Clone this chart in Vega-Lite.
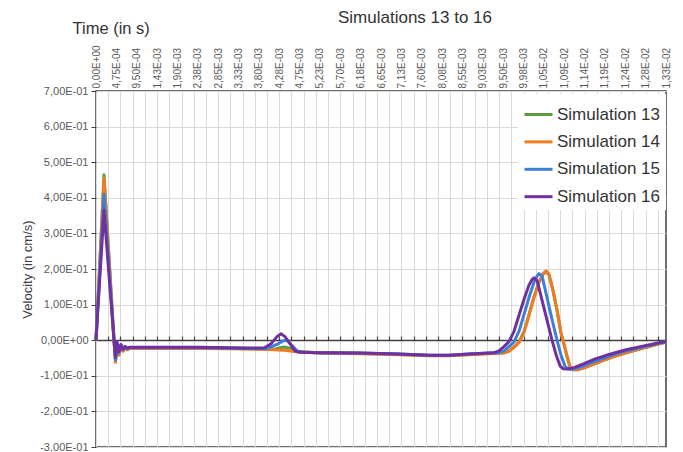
{
"$schema": "https://vega.github.io/schema/vega-lite/v6.json",
"width": 570, "height": 356,
"autosize": {"type": "none"},
"padding": {"left": 96, "top": 91, "right": 17, "bottom": 5},
"background": "white",
"title": {"text": "Simulations 13 to 16", "fontSize": 17, "font": "Liberation Sans", "fontWeight": "normal", "color": "#333333", "anchor": "middle", "dx": 34, "dy": 11},
"config": {"view": {"stroke": "#404040", "strokeWidth": 1.5}, "font": "Liberation Sans"},
"datasets": {
"sim": [
{"s":"Simulation 13","t":0,"v":0},{"s":"Simulation 13","t":0.0001867,"v":0.465},{"s":"Simulation 13","t":0.0003033,"v":0.235},{"s":"Simulation 13","t":0.00042,"v":0},{"s":"Simulation 13","t":0.000455,"v":-0.06},{"s":"Simulation 13","t":0.00049,"v":-0.01},{"s":"Simulation 13","t":0.0005367,"v":-0.04},{"s":"Simulation 13","t":0.0005833,"v":-0.014},{"s":"Simulation 13","t":0.00063,"v":-0.03},{"s":"Simulation 13","t":0.0006767,"v":-0.019},{"s":"Simulation 13","t":0.0007233,"v":-0.026},{"s":"Simulation 13","t":0.0007933,"v":-0.022},{"s":"Simulation 13","t":0.0010033,"v":-0.022},{"s":"Simulation 13","t":0.0024033,"v":-0.022},{"s":"Simulation 13","t":0.00357,"v":-0.024},{"s":"Simulation 13","t":0.0041533,"v":-0.025},{"s":"Simulation 13","t":0.0043867,"v":-0.019},{"s":"Simulation 13","t":0.00455,"v":-0.023},{"s":"Simulation 13","t":0.0047367,"v":-0.032},{"s":"Simulation 13","t":0.0052033,"v":-0.035},{"s":"Simulation 13","t":0.0061367,"v":-0.037},{"s":"Simulation 13","t":0.00707,"v":-0.04},{"s":"Simulation 13","t":0.00777,"v":-0.043},{"s":"Simulation 13","t":0.0082367,"v":-0.043},{"s":"Simulation 13","t":0.0087033,"v":-0.04},{"s":"Simulation 13","t":0.00917,"v":-0.037},{"s":"Simulation 13","t":0.00952,"v":-0.035},{"s":"Simulation 13","t":0.0096367,"v":-0.03},{"s":"Simulation 13","t":0.0097533,"v":-0.019},{"s":"Simulation 13","t":0.00987,"v":-0.005},{"s":"Simulation 13","t":0.0099867,"v":0.024},{"s":"Simulation 13","t":0.0101033,"v":0.072},{"s":"Simulation 13","t":0.01022,"v":0.122},{"s":"Simulation 13","t":0.0103367,"v":0.163},{"s":"Simulation 13","t":0.01043,"v":0.185},{"s":"Simulation 13","t":0.0105,"v":0.193},{"s":"Simulation 13","t":0.01057,"v":0.183},{"s":"Simulation 13","t":0.0106633,"v":0.14},{"s":"Simulation 13","t":0.0107567,"v":0.085},{"s":"Simulation 13","t":0.01085,"v":0.02},{"s":"Simulation 13","t":0.0108967,"v":0},{"s":"Simulation 13","t":0.01099,"v":-0.045},{"s":"Simulation 13","t":0.01106,"v":-0.075},{"s":"Simulation 13","t":0.01113,"v":-0.083},{"s":"Simulation 13","t":0.0112233,"v":-0.083},{"s":"Simulation 13","t":0.0113867,"v":-0.078},{"s":"Simulation 13","t":0.01162,"v":-0.067},{"s":"Simulation 13","t":0.0118533,"v":-0.056},{"s":"Simulation 13","t":0.0121567,"v":-0.043},{"s":"Simulation 13","t":0.01253,"v":-0.03},{"s":"Simulation 13","t":0.0129033,"v":-0.018},{"s":"Simulation 13","t":0.0131833,"v":-0.009},{"s":"Simulation 13","t":0.0133,"v":-0.006},

{"s":"Simulation 14","t":0,"v":0},{"s":"Simulation 14","t":0.0001867,"v":0.455},{"s":"Simulation 14","t":0.0003033,"v":0.23},{"s":"Simulation 14","t":0.00042,"v":0},{"s":"Simulation 14","t":0.000455,"v":-0.062},{"s":"Simulation 14","t":0.00049,"v":-0.012},{"s":"Simulation 14","t":0.0005367,"v":-0.042},{"s":"Simulation 14","t":0.0005833,"v":-0.016},{"s":"Simulation 14","t":0.00063,"v":-0.031},{"s":"Simulation 14","t":0.0006767,"v":-0.02},{"s":"Simulation 14","t":0.0007233,"v":-0.027},{"s":"Simulation 14","t":0.0007933,"v":-0.023},{"s":"Simulation 14","t":0.0010033,"v":-0.023},{"s":"Simulation 14","t":0.0024033,"v":-0.023},{"s":"Simulation 14","t":0.00357,"v":-0.025},{"s":"Simulation 14","t":0.0040367,"v":-0.026},{"s":"Simulation 14","t":0.0043867,"v":-0.028},{"s":"Simulation 14","t":0.0047367,"v":-0.033},{"s":"Simulation 14","t":0.0052033,"v":-0.036},{"s":"Simulation 14","t":0.0061367,"v":-0.038},{"s":"Simulation 14","t":0.00707,"v":-0.041},{"s":"Simulation 14","t":0.00777,"v":-0.044},{"s":"Simulation 14","t":0.0082367,"v":-0.044},{"s":"Simulation 14","t":0.0087033,"v":-0.041},{"s":"Simulation 14","t":0.00917,"v":-0.038},{"s":"Simulation 14","t":0.00952,"v":-0.036},{"s":"Simulation 14","t":0.0096367,"v":-0.031},{"s":"Simulation 14","t":0.0097533,"v":-0.02},{"s":"Simulation 14","t":0.00987,"v":-0.006},{"s":"Simulation 14","t":0.0099867,"v":0.022},{"s":"Simulation 14","t":0.0101033,"v":0.07},{"s":"Simulation 14","t":0.01022,"v":0.12},{"s":"Simulation 14","t":0.0103367,"v":0.163},{"s":"Simulation 14","t":0.01043,"v":0.187},{"s":"Simulation 14","t":0.0105,"v":0.195},{"s":"Simulation 14","t":0.01057,"v":0.185},{"s":"Simulation 14","t":0.0106633,"v":0.14},{"s":"Simulation 14","t":0.0107567,"v":0.085},{"s":"Simulation 14","t":0.01085,"v":0.02},{"s":"Simulation 14","t":0.0108967,"v":0},{"s":"Simulation 14","t":0.01099,"v":-0.045},{"s":"Simulation 14","t":0.01106,"v":-0.075},{"s":"Simulation 14","t":0.01113,"v":-0.083},{"s":"Simulation 14","t":0.0112233,"v":-0.083},{"s":"Simulation 14","t":0.0113867,"v":-0.078},{"s":"Simulation 14","t":0.01162,"v":-0.067},{"s":"Simulation 14","t":0.0118533,"v":-0.056},{"s":"Simulation 14","t":0.0121567,"v":-0.043},{"s":"Simulation 14","t":0.01253,"v":-0.03},{"s":"Simulation 14","t":0.0129033,"v":-0.018},{"s":"Simulation 14","t":0.0131833,"v":-0.009},{"s":"Simulation 14","t":0.0133,"v":-0.006},

{"s":"Simulation 15","t":0,"v":0},{"s":"Simulation 15","t":0.0001867,"v":0.41},{"s":"Simulation 15","t":0.0003033,"v":0.205},{"s":"Simulation 15","t":0.00042,"v":0},{"s":"Simulation 15","t":0.000455,"v":-0.055},{"s":"Simulation 15","t":0.00049,"v":-0.008},{"s":"Simulation 15","t":0.0005367,"v":-0.036},{"s":"Simulation 15","t":0.0005833,"v":-0.013},{"s":"Simulation 15","t":0.00063,"v":-0.027},{"s":"Simulation 15","t":0.0006767,"v":-0.018},{"s":"Simulation 15","t":0.0007233,"v":-0.024},{"s":"Simulation 15","t":0.0007933,"v":-0.021},{"s":"Simulation 15","t":0.0010033,"v":-0.021},{"s":"Simulation 15","t":0.0024033,"v":-0.021},{"s":"Simulation 15","t":0.00357,"v":-0.023},{"s":"Simulation 15","t":0.00399,"v":-0.023},{"s":"Simulation 15","t":0.0042233,"v":-0.012},{"s":"Simulation 15","t":0.0043633,"v":-0.002},{"s":"Simulation 15","t":0.0044567,"v":0},{"s":"Simulation 15","t":0.00455,"v":-0.012},{"s":"Simulation 15","t":0.00469,"v":-0.03},{"s":"Simulation 15","t":0.0048067,"v":-0.034},{"s":"Simulation 15","t":0.0052033,"v":-0.035},{"s":"Simulation 15","t":0.0061367,"v":-0.036},{"s":"Simulation 15","t":0.00707,"v":-0.039},{"s":"Simulation 15","t":0.00777,"v":-0.042},{"s":"Simulation 15","t":0.0082367,"v":-0.042},{"s":"Simulation 15","t":0.0087033,"v":-0.039},{"s":"Simulation 15","t":0.00917,"v":-0.036},{"s":"Simulation 15","t":0.0094033,"v":-0.035},{"s":"Simulation 15","t":0.00952,"v":-0.03},{"s":"Simulation 15","t":0.0096367,"v":-0.018},{"s":"Simulation 15","t":0.0097533,"v":-0.005},{"s":"Simulation 15","t":0.00987,"v":0.025},{"s":"Simulation 15","t":0.0099867,"v":0.072},{"s":"Simulation 15","t":0.0101033,"v":0.12},{"s":"Simulation 15","t":0.01022,"v":0.163},{"s":"Simulation 15","t":0.01029,"v":0.18},{"s":"Simulation 15","t":0.0103367,"v":0.187},{"s":"Simulation 15","t":0.0104067,"v":0.18},{"s":"Simulation 15","t":0.0104767,"v":0.145},{"s":"Simulation 15","t":0.01057,"v":0.095},{"s":"Simulation 15","t":0.0106633,"v":0.047},{"s":"Simulation 15","t":0.0107567,"v":0},{"s":"Simulation 15","t":0.01085,"v":-0.042},{"s":"Simulation 15","t":0.0109433,"v":-0.073},{"s":"Simulation 15","t":0.0110133,"v":-0.081},{"s":"Simulation 15","t":0.0111067,"v":-0.082},{"s":"Simulation 15","t":0.01127,"v":-0.077},{"s":"Simulation 15","t":0.0115033,"v":-0.066},{"s":"Simulation 15","t":0.0117367,"v":-0.055},{"s":"Simulation 15","t":0.0120633,"v":-0.041},{"s":"Simulation 15","t":0.0124367,"v":-0.028},{"s":"Simulation 15","t":0.0128333,"v":-0.017},{"s":"Simulation 15","t":0.0131367,"v":-0.008},{"s":"Simulation 15","t":0.0133,"v":-0.005},

{"s":"Simulation 16","t":0,"v":0},{"s":"Simulation 16","t":0.0001867,"v":0.365},{"s":"Simulation 16","t":0.0003033,"v":0.183},{"s":"Simulation 16","t":0.00042,"v":0},{"s":"Simulation 16","t":0.000455,"v":-0.048},{"s":"Simulation 16","t":0.00049,"v":-0.006},{"s":"Simulation 16","t":0.0005367,"v":-0.032},{"s":"Simulation 16","t":0.0005833,"v":-0.012},{"s":"Simulation 16","t":0.00063,"v":-0.025},{"s":"Simulation 16","t":0.0006767,"v":-0.017},{"s":"Simulation 16","t":0.0007233,"v":-0.022},{"s":"Simulation 16","t":0.0007933,"v":-0.02},{"s":"Simulation 16","t":0.0010033,"v":-0.02},{"s":"Simulation 16","t":0.0024033,"v":-0.02},{"s":"Simulation 16","t":0.00357,"v":-0.022},{"s":"Simulation 16","t":0.00392,"v":-0.022},{"s":"Simulation 16","t":0.0040833,"v":-0.01},{"s":"Simulation 16","t":0.0042233,"v":0.01},{"s":"Simulation 16","t":0.0043167,"v":0.018},{"s":"Simulation 16","t":0.00441,"v":0.01},{"s":"Simulation 16","t":0.0045267,"v":-0.01},{"s":"Simulation 16","t":0.0046433,"v":-0.03},{"s":"Simulation 16","t":0.0047367,"v":-0.034},{"s":"Simulation 16","t":0.0052033,"v":-0.035},{"s":"Simulation 16","t":0.0061367,"v":-0.036},{"s":"Simulation 16","t":0.00707,"v":-0.039},{"s":"Simulation 16","t":0.00777,"v":-0.042},{"s":"Simulation 16","t":0.0082367,"v":-0.042},{"s":"Simulation 16","t":0.0087033,"v":-0.039},{"s":"Simulation 16","t":0.00917,"v":-0.036},{"s":"Simulation 16","t":0.0092867,"v":-0.035},{"s":"Simulation 16","t":0.0094033,"v":-0.03},{"s":"Simulation 16","t":0.00952,"v":-0.018},{"s":"Simulation 16","t":0.0096367,"v":-0.004},{"s":"Simulation 16","t":0.0097533,"v":0.025},{"s":"Simulation 16","t":0.00987,"v":0.07},{"s":"Simulation 16","t":0.0099867,"v":0.115},{"s":"Simulation 16","t":0.0101033,"v":0.155},{"s":"Simulation 16","t":0.0101733,"v":0.17},{"s":"Simulation 16","t":0.01022,"v":0.175},{"s":"Simulation 16","t":0.01029,"v":0.168},{"s":"Simulation 16","t":0.01036,"v":0.135},{"s":"Simulation 16","t":0.0104533,"v":0.09},{"s":"Simulation 16","t":0.0105467,"v":0.045},{"s":"Simulation 16","t":0.01064,"v":0},{"s":"Simulation 16","t":0.0107333,"v":-0.04},{"s":"Simulation 16","t":0.0108267,"v":-0.072},{"s":"Simulation 16","t":0.0108967,"v":-0.08},{"s":"Simulation 16","t":0.01099,"v":-0.081},{"s":"Simulation 16","t":0.0111533,"v":-0.077},{"s":"Simulation 16","t":0.0113867,"v":-0.066},{"s":"Simulation 16","t":0.01162,"v":-0.054},{"s":"Simulation 16","t":0.01197,"v":-0.04},{"s":"Simulation 16","t":0.0123667,"v":-0.027},{"s":"Simulation 16","t":0.0127867,"v":-0.016},{"s":"Simulation 16","t":0.0131367,"v":-0.007},{"s":"Simulation 16","t":0.0133,"v":-0.004}
]
},
"data": {"name": "sim"},
"layer": [
{
"mark": {"type": "line", "strokeOpacity": 0},
"encoding": {
"x": {"field": "t", "type": "quantitative", "scale": {"domain": [0, 0.0133], "nice": false, "zero": false},
 "axis": {"orient": "bottom", "values": [0,0.000285,0.00057,0.000855,0.00114,0.001425,0.00171,0.001995,0.00228,0.002565,0.00285,0.003135,0.00342,0.003705,0.00399,0.004275,0.00456,0.004845,0.00513,0.005415,0.0057,0.005985,0.00627,0.006555,0.00684,0.007125,0.00741,0.007695,0.00798,0.008265,0.00855,0.008835,0.00912,0.009405,0.00969,0.009975,0.01026,0.010545,0.01083,0.011115,0.0114,0.011685,0.01197,0.012255,0.01254,0.012825,0.01311],
 "labels": false, "ticks": false, "domain": false, "grid": true, "gridColor": "#D9D9D9", "gridWidth": 1, "title": null}},
"y": {"field": "v", "type": "quantitative", "scale": {"domain": [-0.3, 0.7], "nice": false},
 "axis": {"values": [-0.3,-0.2,-0.1,0,0.1,0.2,0.3,0.4,0.5,0.6,0.7],
  "labelExpr": "replace(replace(replace(replace(upper(format(datum.value*1.000001,'.2e')),'.',','),'E-','E-0'),'E+','E+0'),'\u2212','-')",
  "labelFontSize": 11, "labelColor": "#595959", "labelPadding": 3,
  "tickSize": 5, "tickColor": "#404040", "domain": false,
  "grid": true, "gridColor": "#D9D9D9", "gridWidth": 1,
  "title": "Velocity (in cm/s)", "titleFontSize": 13, "titleFontWeight": "normal", "titleColor": "#404040", "titlePadding": 5}},
"detail": {"field": "s", "type": "nominal"}
}
},
{
"mark": {"type": "line", "strokeOpacity": 0},
"encoding": {
"x": {"field": "t", "type": "quantitative",
 "axis": {"orient": "top", "offset": -249, "values": [0,0.000285,0.00057,0.000855,0.00114,0.001425,0.00171,0.001995,0.00228,0.002565,0.00285,0.003135,0.00342,0.003705,0.00399,0.004275,0.00456,0.004845,0.00513,0.005415,0.0057,0.005985,0.00627,0.006555,0.00684,0.007125,0.00741,0.007695,0.00798,0.008265,0.00855,0.008835,0.00912,0.009405,0.00969,0.009975,0.01026,0.010545,0.01083,0.011115,0.0114,0.011685,0.01197,0.012255,0.01254,0.012825,0.01311],
 "labels": false, "ticks": true, "tickSize": 4, "tickColor": "#404040", "tickWidth": 1.2, "domain": true, "domainColor": "#404040", "domainWidth": 1.5, "grid": false, "title": null}},
"y": {"field": "v", "type": "quantitative", "axis": null},
"detail": {"field": "s", "type": "nominal"}
}
},
{
"mark": {"type": "line", "strokeWidth": 3, "strokeJoin": "round"},
"encoding": {
"x": {"field": "t", "type": "quantitative",
 "axis": {"orient": "top", "values": [0,0.000475,0.00095,0.001425,0.0019,0.002375,0.00285,0.003325,0.0038,0.004275,0.00475,0.005225,0.0057,0.006175,0.00665,0.007125,0.0076,0.008075,0.00855,0.009025,0.0095,0.009975,0.01045,0.010925,0.0114,0.011875,0.01235,0.012825,0.0133],
 "labelExpr": "replace(replace(replace(upper(format(datum.value*1.000001,'.2e')),'.',','),'E-','E-0'),'E+','E+0')",
 "labelAngle": -90, "labelAlign": "left", "labelBaseline": "middle", "labelFontSize": 10, "labelColor": "#595959", "labelPadding": 3, "labelOverlap": false, "labelBound": false,
 "ticks": false, "domain": false, "grid": false,
 "title": "Time (in s)", "titleX": -24, "titleY": -58, "titleAlign": "left", "titleBaseline": "alphabetic", "titleFontSize": 16.5, "titleFontWeight": "normal", "titleColor": "#333333", "titleAngle": 0}},
"y": {"field": "v", "type": "quantitative", "axis": null},
"color": {"field": "s", "type": "nominal",
 "scale": {"domain": ["Simulation 13","Simulation 14","Simulation 15","Simulation 16"], "range": ["#5A9B3E","#F07B22","#3D7FD6","#7030A0"]},
 "legend": {"title": null, "orient": "none", "legendX": 422, "legendY": 3, "padding": 5, "fillColor": "white",
  "symbolType": "stroke", "symbolSize": 784, "symbolStrokeWidth": 3, "labelFontSize": 17, "labelColor": "#333333", "labelOffset": 3, "rowPadding": 3.4}}
}
}
],
"resolve": {"axis": {"x": "independent", "y": "independent"}}
}
